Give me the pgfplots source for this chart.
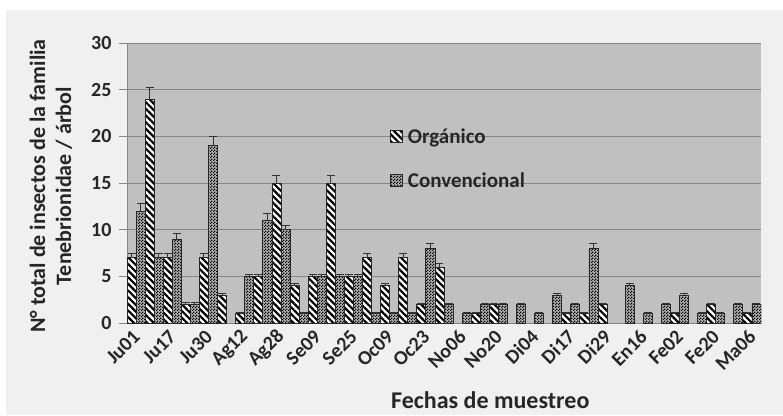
\documentclass[border=0pt]{standalone}
\usepackage{pgfplots}
\pgfplotsset{compat=1.18}
\usepackage{fontspec}
\setmainfont{Carlito}
\usetikzlibrary{patterns,patterns.meta}
\definecolor{plotbg}{HTML}{C0C0C0}
\definecolor{outerbg}{HTML}{F0F0F0}
\definecolor{gridc}{HTML}{868686}
\definecolor{txt}{HTML}{262626}
\pgfdeclarepatternformonly{checker}{\pgfqpoint{0pt}{0pt}}{\pgfqpoint{3pt}{3pt}}{\pgfqpoint{3pt}{3pt}}{%
  \pgfpathrectangle{\pgfqpoint{0pt}{0pt}}{\pgfqpoint{1.5pt}{1.5pt}}%
  \pgfpathrectangle{\pgfqpoint{1.5pt}{1.5pt}}{\pgfqpoint{1.5pt}{1.5pt}}%
  \pgfusepath{fill}}
\begin{document}
\begin{tikzpicture}
\path[use as bounding box] (0pt,0pt) rectangle (783pt,415pt);
\fill[white] (0pt,0pt) rectangle (783pt,415pt);
\fill[outerbg] (6pt,0pt) rectangle (783pt,405pt);
\begin{axis}[
  at={(127pt,92pt)}, anchor=south west,
  scale only axis, width=634pt, height=280pt,
  xmin=-0.5, xmax=34.5, ymin=0, ymax=30,
  ytick={0,5,...,30},
  xtick={0,2,...,34},
  xticklabels={Ju01,Ju17,Ju30,Ag12,Ag28,Se09,Se25,Oc09,Oc23,No06,No20,Di04,Di17,Di29,En16,Fe02,Fe20,Ma06},
  axis background/.style={fill=plotbg},
  axis lines*=left,
  axis line style={draw=gridc, line width=1pt},
  ymajorgrids, major grid style={draw=gridc, line width=1pt},
  tick align=outside, major tick length=8pt,
  ytick style={draw=gridc, line width=1pt},
  xtick style={draw=none},
  /pgf/number format/assume math mode=true,
  tick label style={font=\fontsize{20}{24}\selectfont\bfseries, text=txt},
  yticklabel style={xshift=-4pt},
  xticklabel style={rotate=45, anchor=east, xshift=2pt, yshift=-2pt},
  ylabel={N° total de insectos de la familia\\Tenebrionidae / árbol},
  every axis y label/.style={at={(axis description cs:-0.12,0.489)}, rotate=90, anchor=center, align=center, font=\fontsize{22}{26}\selectfont\bfseries, text=txt},
  xlabel={Fechas de muestreo},
  every axis x label/.style={at={(axis description cs:0.573,-0.307)}, anchor=base, font=\fontsize{24}{28}\selectfont\bfseries, text=txt},
  ybar=0pt, bar width=9.06pt,
  legend style={at={(axis description cs:0.41,0.71)}, anchor=north west, draw=none, fill=none,
    font=\fontsize{21}{25}\selectfont\bfseries, text=txt, row sep=24pt},
  legend cell align=left,
  legend image code/.code={\draw[#1] (0pt,-6pt) rectangle (12pt,6pt);},
  error bars/y dir=plus, error bars/y explicit,
  error bars/error bar style={line width=1pt, black!80},
  error bars/error mark options={rotate=90, mark size=4pt, line width=1pt, black!80},
]
\addplot[draw=black!85, line width=0.8pt, fill=white, postaction={pattern={Lines[angle=-45,distance=4.7pt,line width=2.2pt]}, pattern color=black}]
coordinates {
(0,7) +- (0,0.4)
(1,24) +- (0,1.2)
(2,7) +- (0,0.4)
(3,2) +- (0,0.15)
(4,7) +- (0,0.4)
(5,3) +- (0,0.2)
(6,1) +- (0,0.1)
(7,5) +- (0,0.2)
(8,15) +- (0,0.8)
(9,4) +- (0,0.2)
(10,5) +- (0,0.2)
(11,15) +- (0,0.8)
(12,5) +- (0,0.2)
(13,7) +- (0,0.4)
(14,4) +- (0,0.2)
(15,7) +- (0,0.4)
(16,2) +- (0,0.1)
(17,6) +- (0,0.4)
(19,1) +- (0,0.1)
(20,2) +- (0,0.1)
(24,1) +- (0,0.1)
(25,1) +- (0,0.1)
(26,2) +- (0,0.1)
(30,1) +- (0,0.1)
(32,2) +- (0,0.1)
(34,1) +- (0,0.1)
};
\addlegendentry{\hspace{3pt}Orgánico}
\addplot[draw=black!85, line width=0.8pt, fill=black!30, postaction={pattern=checker, pattern color=black}]
coordinates {
(0,12) +- (0,0.8)
(1,7) +- (0,0.4)
(2,9) +- (0,0.6)
(3,2) +- (0,0.15)
(4,19) +- (0,1.0)
(6,5) +- (0,0.2)
(7,11) +- (0,0.7)
(8,10) +- (0,0.5)
(9,1) +- (0,0.1)
(10,5) +- (0,0.2)
(11,5) +- (0,0.2)
(12,5) +- (0,0.2)
(13,1) +- (0,0.1)
(14,1) +- (0,0.1)
(15,1) +- (0,0.1)
(16,8) +- (0,0.5)
(17,2) +- (0,0.1)
(18,1) +- (0,0.1)
(19,2) +- (0,0.1)
(20,2) +- (0,0.1)
(21,2) +- (0,0.1)
(22,1) +- (0,0.1)
(23,3) +- (0,0.2)
(24,2) +- (0,0.1)
(25,8) +- (0,0.5)
(27,4) +- (0,0.2)
(28,1) +- (0,0.1)
(29,2) +- (0,0.1)
(30,3) +- (0,0.2)
(31,1) +- (0,0.1)
(32,1) +- (0,0.1)
(33,2) +- (0,0.1)
(34,2) +- (0,0.1)
};
\addlegendentry{\hspace{3pt}Convencional}
\end{axis}
\end{tikzpicture}
\end{document}
